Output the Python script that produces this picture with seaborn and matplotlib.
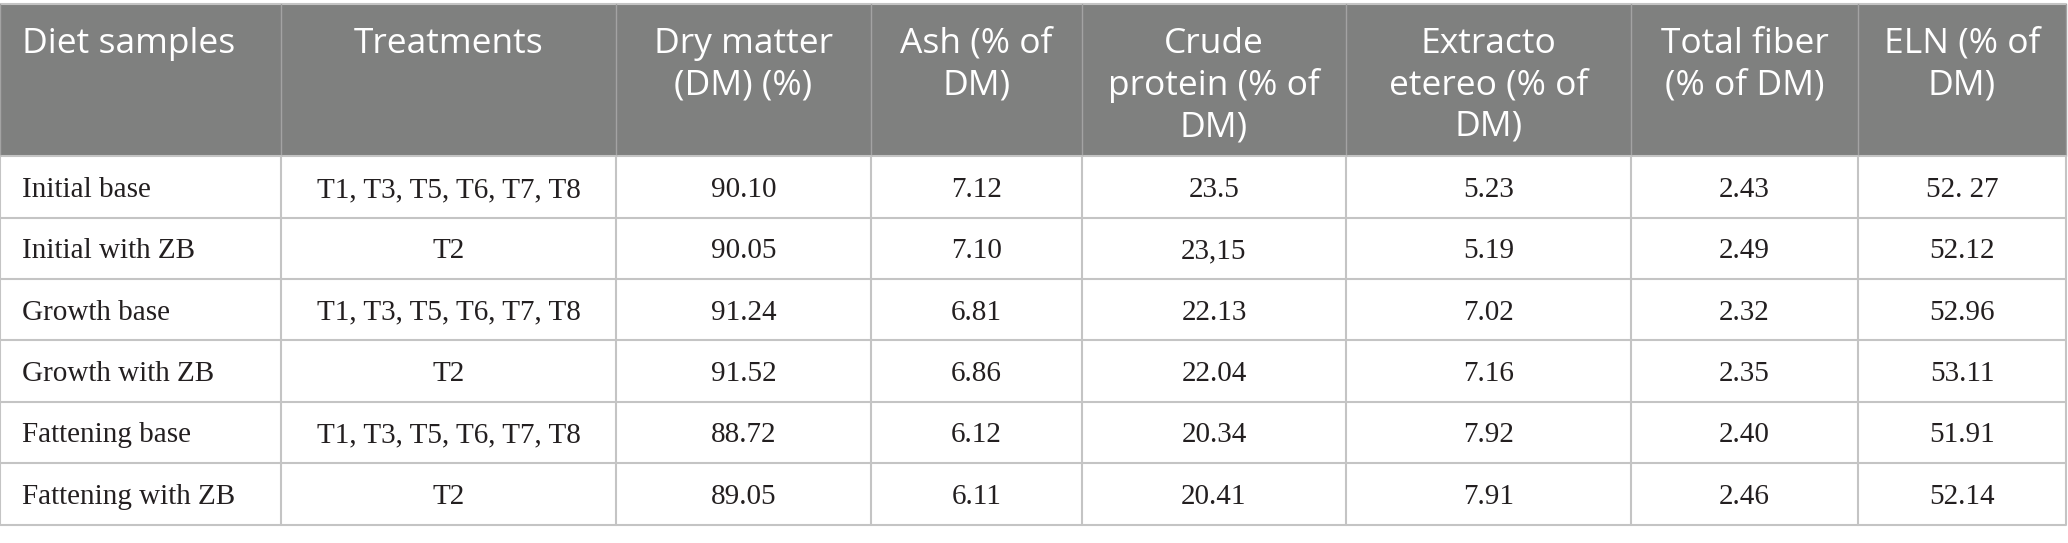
import matplotlib
matplotlib.use("Agg")
import matplotlib.pyplot as plt
import seaborn as sns

# --- table content ---
headers = ["Diet samples", "Treatments", "Dry matter\n(DM) (%)", "Ash (% of\nDM)",
           "Crude\nprotein (% of\nDM)", "Extracto\netereo (% of\nDM)",
           "Total fiber\n(% of DM)", "ELN (% of\nDM)"]
diet_samples = ["Initial base", "Initial with ZB", "Growth base", "Growth with ZB",
                "Fattening base", "Fattening with ZB"]
treatments = ["T1, T3, T5, T6, T7, T8", "T2", "T1, T3, T5, T6, T7, T8", "T2",
              "T1, T3, T5, T6, T7, T8", "T2"]
dry_matter = ["90.10", "90.05", "91.24", "91.52", "88.72", "89.05"]
ash = ["7.12", "7.10", "6.81", "6.86", "6.12", "6.11"]
crude_protein = ["23.5", "23,15", "22.13", "22.04", "20.34", "20.41"]
extracto_etereo = ["5.23", "5.19", "7.02", "7.16", "7.92", "7.91"]
total_fiber = ["2.43", "2.49", "2.32", "2.35", "2.40", "2.46"]
eln = ["52. 27", "52.12", "52.96", "53.11", "51.91", "52.14"]

# --- layout (pixels) ---
W, H = 2068, 543
col_edges = [0, 281, 616, 871, 1082, 1346, 1631, 1858, 2066]
head_top, head_bot = 4, 156
row_edges = [156, 218, 279, 340, 402, 463, 525]
PAD = 22
HEAD_BG = "#7f807f"
GRID = "#c4c4c4"

sns.set_theme(style="white")
plt.rcParams["font.family"] = ["DejaVu Sans"]

fig = plt.figure(figsize=(W / 100, H / 100), dpi=100)
ax = fig.add_axes([0, 0, 1, 1])
ax.set_xlim(0, W)
ax.set_ylim(H, 0)
ax.axis("off")

# header background
ax.fill_between([col_edges[0], col_edges[-1]], head_top, head_bot, color=HEAD_BG, lw=0)

columns = [diet_samples, treatments, dry_matter, ash, crude_protein,
           extracto_etereo, total_fiber, eln]

for j, head in enumerate(headers):
    xc = (col_edges[j] + col_edges[j + 1]) / 2
    if j == 0:
        xt, ha = col_edges[0] + PAD, "left"
    else:
        xt, ha = xc, "center"
    ax.text(xt, head_top + 23, head, color="white", fontsize=25.5,
            family=["Open Sans", "DejaVu Sans"], ha=ha, va="top",
            multialignment="center", linespacing=1.27)
    for i, val in enumerate(columns[j]):
        yc = (row_edges[i] + row_edges[i + 1]) / 2
        ax.text(xt, yc + 3, val, fontsize=21, color="#231f20",
                family=["Liberation Serif"], ha=ha, va="center")

# grid lines
for y in row_edges:
    ax.plot([col_edges[0], col_edges[-1]], [y, y], color=GRID, lw=1.5, solid_capstyle="butt")
ax.plot([col_edges[0], col_edges[-1]], [head_top, head_top], color=GRID, lw=1.5)
for x in col_edges:
    ax.plot([x, x], [head_top, head_bot], color="#a3a3a3", lw=1.0)
    ax.plot([x, x], [head_bot, row_edges[-1]], color=GRID, lw=1.5)

fig.savefig("out.png", dpi=100, facecolor="white")
